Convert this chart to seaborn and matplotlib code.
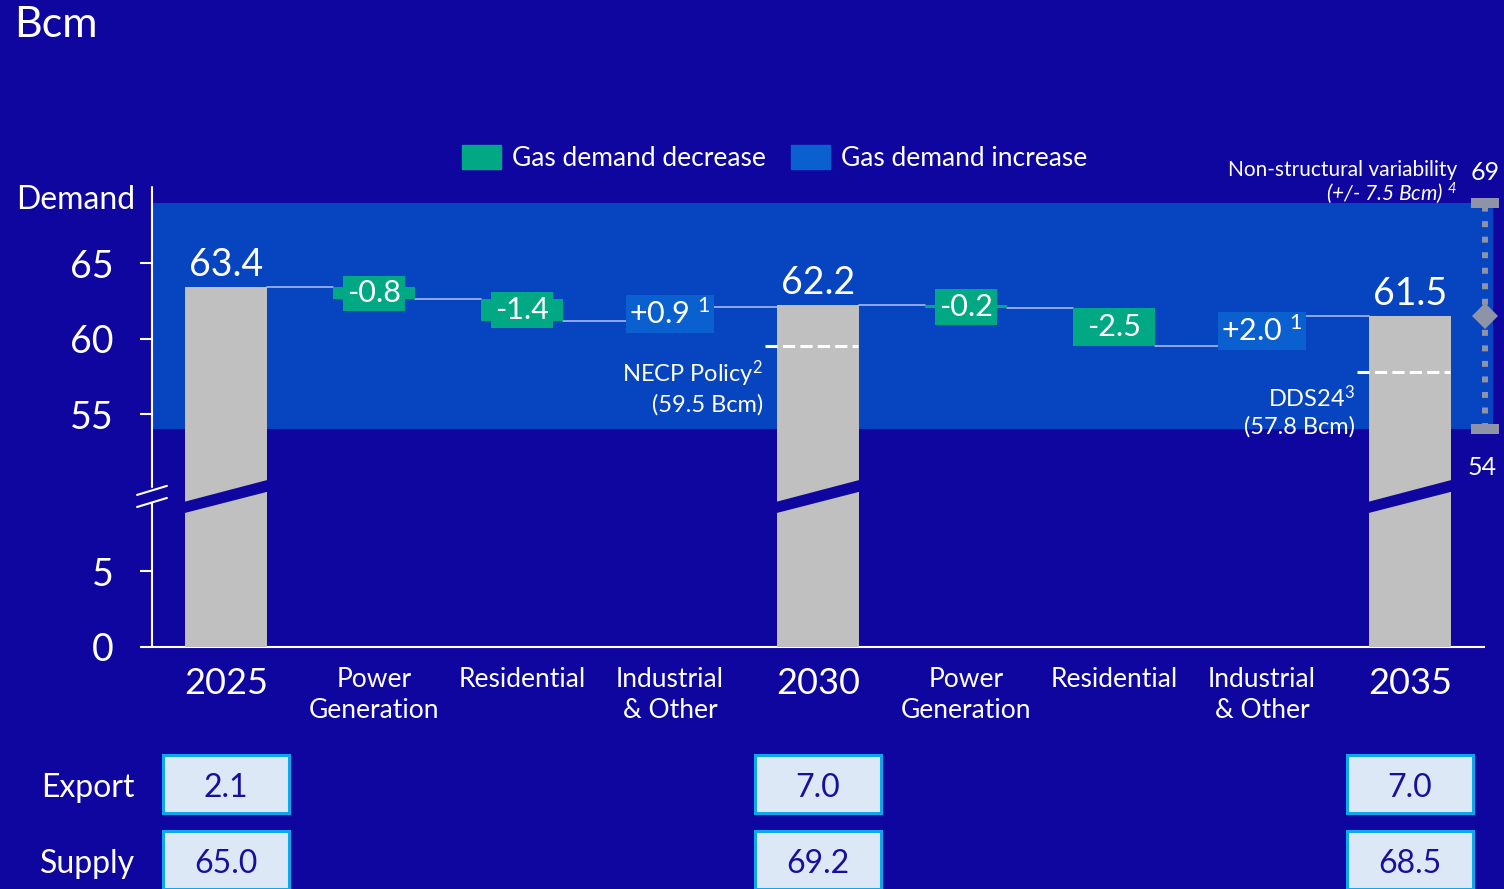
import numpy as np
import pandas as pd
import seaborn as sns
import matplotlib.pyplot as plt
from matplotlib.patches import Patch
import matplotlib.transforms as mtransforms

# ---- data -------------------------------------------------------------
categories = ["2025", "Power\nGeneration", "Residential", "Industrial\n& Other",
              "2030", "Power\nGeneration", "Residential", "Industrial\n& Other",
              "2035"]
total_pos = [0, 4, 8]
total_values = [63.4, 62.2, 61.5]
total_labels = ["63.4", "62.2", "61.5"]

delta_pos = [1, 2, 3, 5, 6, 7]
delta_values = [-0.8, -1.4, 0.9, -0.2, -2.5, 2.0]
delta_labels = ["-0.8", "-1.4", "+0.9 $^{1}$", "-0.2", "-2.5", "+2.0 $^{1}$"]

necp_value = 59.5
dds_value = 57.8
variability_center = 61.5
variability_half = 7.5

export_values = ["2.1", "7.0", "7.0"]
supply_values = ["65.0", "69.2", "68.5"]
row_names = ["Export", "Supply"]

# ---- colours ----------------------------------------------------------
BG = "#0F069F"
BAND = "#0744C0"
GREY = "#C0C0C0"
GREEN = "#00A884"
BLUE = "#0A60CF"
LINK = "#A9B9EE"
RANGE = "#8F93A8"
BOX_FILL = "#DCE8F6"
BOX_EDGE = "#10A6EC"
BOX_TEXT = "#1A0F9C"

sns.set_style("ticks")
plt.rcParams["font.family"] = ["Lato", "DejaVu Sans"]
plt.rcParams["text.color"] = "white"
plt.rcParams["mathtext.fontset"] = "custom"
plt.rcParams["mathtext.rm"] = "Lato"
plt.rcParams["mathtext.it"] = "Lato:italic"
plt.rcParams["mathtext.default"] = "regular"

# broken value axis: 0-9.5 and 49.7+ shown linearly, the gap squeezed
B0, B1, D1 = 9.5, 49.7, 10.1
OFF = B1 - D1


def fwd(v):
    return np.interp(v, [-1e4, B0, B1, 1e4], [-1e4, B0, D1, 1e4 - OFF])


def inv(d):
    return np.interp(d, [-1e4, B0, D1, 1e4 - OFF], [-1e4, B0, B1, 1e4])


W, H = 1504, 889
fig = plt.figure(figsize=(W / 100, H / 100), dpi=100, facecolor=BG)
ax = fig.add_axes([152 / W, 1 - 646.7 / H, 1332 / W, 459.7 / H])
ax.patch.set_alpha(0)

keys = [f"k{i}" for i in range(len(categories))]
df_tot = pd.DataFrame({"key": [keys[p] for p in total_pos], "value": total_values})
sns.barplot(data=df_tot, x="key", y="value", order=keys, color=GREY,
            saturation=1, width=0.56, errorbar=None, ax=ax, zorder=3,
            linewidth=0, edgecolor="none")

ax.set_yscale("function", functions=(fwd, inv))
ax.set_xlim(-0.5, 8.5)
ax.set_ylim(0, inv(30.44))

bar_w = 0.56

# floating change bars and link lines
level = total_values[0]
links = []
prev_right = total_pos[0] + bar_w / 2
for i in range(1, len(categories)):
    if i in total_pos:
        ti = total_pos.index(i)
        links.append((prev_right, i - bar_w / 2, level))
        level = total_values[ti]
        prev_right = i + bar_w / 2
    else:
        di = delta_pos.index(i)
        d = delta_values[di]
        links.append((prev_right, i - bar_w / 2, level))
        col = GREEN if d < 0 else BLUE
        ax.bar(i, d, bottom=level, width=bar_w, color=col, zorder=3,
               linewidth=0, edgecolor="none")
        mid = level + d / 2
        ax.text(i, mid, delta_labels[di], ha="center", va="center", fontsize=22,
                color="white", zorder=6,
                bbox=dict(boxstyle="square,pad=0.12", fc=col, ec="none"))
        level = level + d
        prev_right = i + bar_w / 2

for x0, x1, y in links:
    ax.plot([x0, x1], [y, y], color=LINK, lw=1.2, zorder=2)

# break notch across the total bars
for p in total_pos:
    xs = [p - bar_w / 2, p + bar_w / 2, p + bar_w / 2, p - bar_w / 2]
    ys = [inv(8.85), inv(10.26), inv(11.04), inv(9.60)]
    ax.fill(xs, ys, color=BG, zorder=4, lw=0)

# total labels
for p, v, lab in zip(total_pos, total_values, total_labels):
    ax.annotate(lab, xy=(p, v), xytext=(0, 8), textcoords="offset points",
                ha="center", va="baseline", fontsize=27, color="white", zorder=6)

# variability band
lo = variability_center - variability_half
hi = variability_center + variability_half
ax.fill_between([-0.5, 8.56], lo, hi, color=BAND, zorder=0, lw=0, clip_on=False)

xe = 8.507
ax.plot([xe, xe], [lo, hi], color=RANGE, lw=4.3, linestyle=(0, (1, 1.6)),
        zorder=5, clip_on=False, solid_capstyle="butt", dash_capstyle="butt")
ax.plot([xe, xe], [lo, hi], ls="none", marker="_", ms=19.5, mew=7.2,
        color=RANGE, zorder=5, clip_on=False)
ax.plot([xe], [variability_center], marker="D", ms=13.5, color=RANGE,
        zorder=6, clip_on=False, mew=0)
ax.annotate(f"{hi:.0f}", xy=(xe, hi), xytext=(0, 16), textcoords="offset points",
            ha="center", va="baseline", fontsize=18, color="white",
            annotation_clip=False)
ax.annotate(f"{lo:.0f}", xy=(xe, lo), xytext=(-2, -33), textcoords="offset points",
            ha="center", va="baseline", fontsize=18, color="white",
            annotation_clip=False)
ax.annotate("Non-structural variability", xy=(8.32, hi), xytext=(0, 19),
            textcoords="offset points", ha="right", va="baseline", fontsize=15,
            color="white")
ax.annotate("(+/- 7.5 Bcm) $^{4}$", xy=(8.32, hi), xytext=(0, 2),
            textcoords="offset points", ha="right", va="baseline", fontsize=15,
            color="white", style="italic")

# policy reference lines
for p, v, txt in [(4, necp_value, f"NECP Policy$^{{2}}$\n({necp_value} Bcm)"),
                  (8, dds_value, f"DDS24$^{{3}}$\n({dds_value} Bcm)")]:
    ax.plot([p - 0.36, p + 0.27], [v, v], color="white", lw=2.2,
            dashes=(4, 1.7), zorder=5)
    ax.annotate(txt, xy=(p - 0.37, v), xytext=(0, -9), textcoords="offset points",
                ha="right", va="top", fontsize=17, color="white",
                multialignment="right", linespacing=1.3, zorder=6)

# axes styling
ax.set_xticks(range(len(categories)))
ax.set_xticklabels(categories)
ax.set_xlabel("")
ax.set_ylabel("")
for lab, txt in zip(ax.get_xticklabels(), categories):
    lab.set_color("white")
    lab.set_linespacing(1.3)
    lab.set_fontsize(26 if txt.isdigit() else 19)
ax.tick_params(axis="x", length=0, pad=14.5)
ax.set_yticks([0, 5, 55, 60, 65])
ax.set_yticklabels(["0", "5", "55", "60", "65"])
ax.tick_params(axis="y", colors="white", labelsize=27, length=8.6, width=1.5,
               pad=19, direction="out")
ax.yaxis.set_minor_locator(plt.NullLocator())
for s in ["top", "right", "left"]:
    ax.spines[s].set_visible(False)
ax.spines["bottom"].set_color("white")
ax.spines["bottom"].set_linewidth(1.5)

# left axis line with a break
ax.plot([-0.5, -0.5], [0, inv(9.5)], color="white", lw=1.5, clip_on=False, zorder=5)
ax.plot([-0.5, -0.5], [inv(10.58), ax.get_ylim()[1]], color="white", lw=1.5,
        clip_on=False, zorder=5)
for d0 in (9.25, 10.05):
    ax.plot([-0.601, -0.399], [inv(d0), inv(d0 + 0.6)], color="white", lw=1.5,
            clip_on=False, zorder=5)

blend = mtransforms.blended_transform_factory(ax.transData, ax.transAxes)
ax.text(-0.615, 0.952, "Demand", transform=blend, ha="right", va="baseline",
        fontsize=23, color="white")

fig.text(14 / W, 1 - 6 / H, "Bcm", ha="left", va="top", fontsize=31, color="white")

fig.legend(handles=[Patch(color=GREEN, label="Gas demand decrease"),
                    Patch(color=BLUE, label="Gas demand increase")],
           loc="center", bbox_to_anchor=(775 / W, 1 - 158 / H), ncol=2,
           frameon=False, fontsize=19, handlelength=1.45, handleheight=1.0,
           handletextpad=0.45, columnspacing=0.95, labelcolor="white")

# export / supply table
ax_t = fig.add_axes([152 / W, 0, 1332 / W, 143 / H])
ax_t.set_xlim(-0.5, 8.5)
ax_t.set_ylim(1.382, -0.5)
ax_t.axis("off")
for r, (name, vals) in enumerate(zip(row_names, [export_values, supply_values])):
    ax_t.bar(total_pos, 0.763, bottom=r - 0.3815, width=0.858, color=BOX_FILL,
             edgecolor=BOX_EDGE, linewidth=2.2, clip_on=False)
    for p, v in zip(total_pos, vals):
        ax_t.text(p, r + 0.05, v, ha="center", va="center", fontsize=23,
                  color=BOX_TEXT)
    ax_t.text(-0.615, r + 0.05, name, ha="right", va="center", fontsize=23,
              color="white")

fig.savefig("out.png", dpi=100, facecolor=BG)
